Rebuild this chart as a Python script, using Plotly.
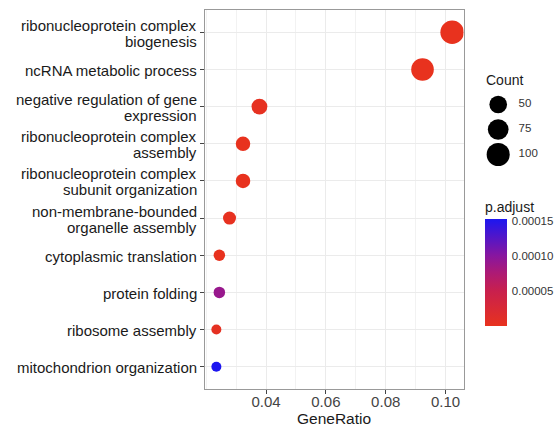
import numpy as np
import plotly.graph_objects as go

# GO enrichment results (top term first); each label is split into its display lines
term_lines = [
    ["ribonucleoprotein complex", "biogenesis"],
    ["ncRNA metabolic process"],
    ["negative regulation of gene", "expression"],
    ["ribonucleoprotein complex", "assembly"],
    ["ribonucleoprotein complex", "subunit organization"],
    ["non-membrane-bounded", "organelle assembly"],
    ["cytoplasmic translation"],
    ["protein folding"],
    ["ribosome assembly"],
    ["mitochondrion organization"],
]
terms = [" ".join(t) for t in term_lines]
gene_ratio = [0.1022, 0.0923, 0.0378, 0.0323, 0.0323, 0.0278, 0.0244, 0.0244, 0.0234, 0.0234]
counts = [105, 95, 39, 33, 33, 28, 25, 25, 24, 24]
p_adjust = [1e-20, 1e-18, 3e-6, 1e-7, 1e-7, 2e-6, 1e-8, 9.0e-5, 4e-6, 1.53e-4]

size_legend_values = [50, 75, 100]
x_ticks = [0.04, 0.06, 0.08, 0.10]
cbar_ticks = [0.00005, 0.00010, 0.00015]

# point diameter: area-style scaling between the smallest and largest count
D_MIN, D_MAX = 10.0, 23.5
c_lo, c_hi = min(counts), max(counts)


def diameter(c):
    frac = np.clip((np.asarray(c, float) - c_lo) / (c_hi - c_lo), 0, 1)
    return D_MIN + (D_MAX - D_MIN) * np.sqrt(frac)


colorscale = [
    [0.0, "rgb(232,50,30)"],
    [0.33, "rgb(200,32,78)"],
    [0.5, "rgb(172,26,118)"],
    [0.66, "rgb(135,22,160)"],
    [1.0, "rgb(28,22,240)"],
]

W, H = 558, 431
L, R, T, B = 205, 10, 10, 42
paper_w = W - L - R
paper_h = H - T - B
panel_right_px = 463.5


def px_x(px):
    return (px - L) / paper_w


def px_y(py):
    return (H - B - py) / paper_h


fig = go.Figure()

fig.add_trace(go.Scatter(
    x=gene_ratio,
    y=terms,
    mode="markers",
    marker=dict(
        size=diameter(counts),
        sizemode="diameter",
        color=p_adjust,
        colorscale=colorscale,
        line=dict(width=0),
        opacity=1,
        colorbar=dict(
            title=dict(text="p.adjust", side="top", font=dict(size=14, color="#1a1a1a")),
            x=px_x(485), xanchor="left", xpad=0,
            y=px_y(326), yanchor="bottom", ypad=0,
            lenmode="pixels", len=128,
            thickness=22,
            outlinewidth=0,
            tickvals=cbar_ticks,
            ticktext=[f"{v:.5f}" for v in cbar_ticks],
            ticks="outside", ticklen=3, tickcolor="white",
            tickfont=dict(size=11.5, color="#333333"),
        ),
    ),
    showlegend=False,
    hoverinfo="x+y",
))

# size key drawn on its own small axes
key_y = list(range(len(size_legend_values) - 1, -1, -1))
fig.add_trace(go.Scatter(
    x=[0] * len(size_legend_values),
    y=key_y,
    mode="markers",
    marker=dict(size=diameter(size_legend_values), sizemode="diameter",
                color="black", opacity=1, line=dict(width=0)),
    xaxis="x2", yaxis="y2",
    showlegend=False,
    hoverinfo="skip",
))
fig.add_trace(go.Scatter(
    x=[0.85] * len(size_legend_values),
    y=key_y,
    mode="text",
    text=[str(v) for v in size_legend_values],
    textposition="middle right",
    textfont=dict(size=11.5, color="#333333"),
    xaxis="x2", yaxis="y2",
    showlegend=False,
    hoverinfo="skip",
))

# category labels, right-aligned next to the y ticks
label_font = dict(size=15, color="#1a1a1a")
annotations = []
for term, lines in zip(terms, term_lines):
    shifts = [-1] if len(lines) == 1 else [7, -9]
    for line, dy in zip(lines, shifts):
        annotations.append(dict(
            text=line, xref="paper", yref="y", x=px_x(199), y=term,
            xanchor="right", yanchor="middle", yshift=dy,
            showarrow=False, font=label_font,
        ))
annotations.append(dict(
    text="Count", x=px_x(484), y=px_y(80), xref="paper", yref="paper",
    xanchor="left", yanchor="middle", showarrow=False,
    font=dict(size=14, color="#1a1a1a"),
))
annotations.append(dict(
    text="GeneRatio", x=(px_x(205) + px_x(panel_right_px)) / 2, y=px_y(418),
    xref="paper", yref="paper", xanchor="center", yanchor="middle",
    showarrow=False, font=dict(size=15.5, color="#1a1a1a"),
))

grid_col = "#EBEBEB"
fig.update_layout(
    width=W, height=H,
    margin=dict(l=L, r=R, t=T, b=B, autoexpand=False),
    paper_bgcolor="white",
    plot_bgcolor="white",
    font=dict(family="Liberation Sans, Arial, sans-serif", color="#1a1a1a"),
    xaxis=dict(
        domain=[0, (panel_right_px - L) / paper_w],
        range=[0.0196, 0.106],
        tickvals=x_ticks,
        ticktext=[f"{v:.2f}" for v in x_ticks],
        showgrid=True, gridcolor=grid_col, gridwidth=1.1,
        minor=dict(dtick=0.01, tick0=0.0, showgrid=True, gridcolor="#F2F2F2", gridwidth=0.6, ticks=""),
        ticks="outside", ticklen=4, tickcolor="#444444", tickwidth=1,
        ticklabelstandoff=-5,
        tickfont=dict(size=15, color="#444444"),
        showline=True, linecolor="#999999", linewidth=1.2, mirror=True,
        zeroline=False, automargin=False,
    ),
    yaxis=dict(
        type="category",
        categoryorder="array",
        categoryarray=terms[::-1],
        range=[-0.6, len(terms) - 0.4],
        showgrid=True, gridcolor=grid_col, gridwidth=1.1,
        ticks="outside", ticklen=4, tickcolor="#444444", tickwidth=1,
        showticklabels=False,
        showline=True, linecolor="#999999", linewidth=1.2, mirror=True,
        zeroline=False, automargin=False,
    ),
    xaxis2=dict(
        domain=[px_x(485), px_x(545)],
        range=[-0.55, 1.95],
        visible=False, fixedrange=True,
    ),
    yaxis2=dict(
        domain=[px_y(167), px_y(92)],
        range=[-0.5, 2.5],
        visible=False, fixedrange=True,
    ),
    annotations=annotations,
)

fig.write_html("out.html")
